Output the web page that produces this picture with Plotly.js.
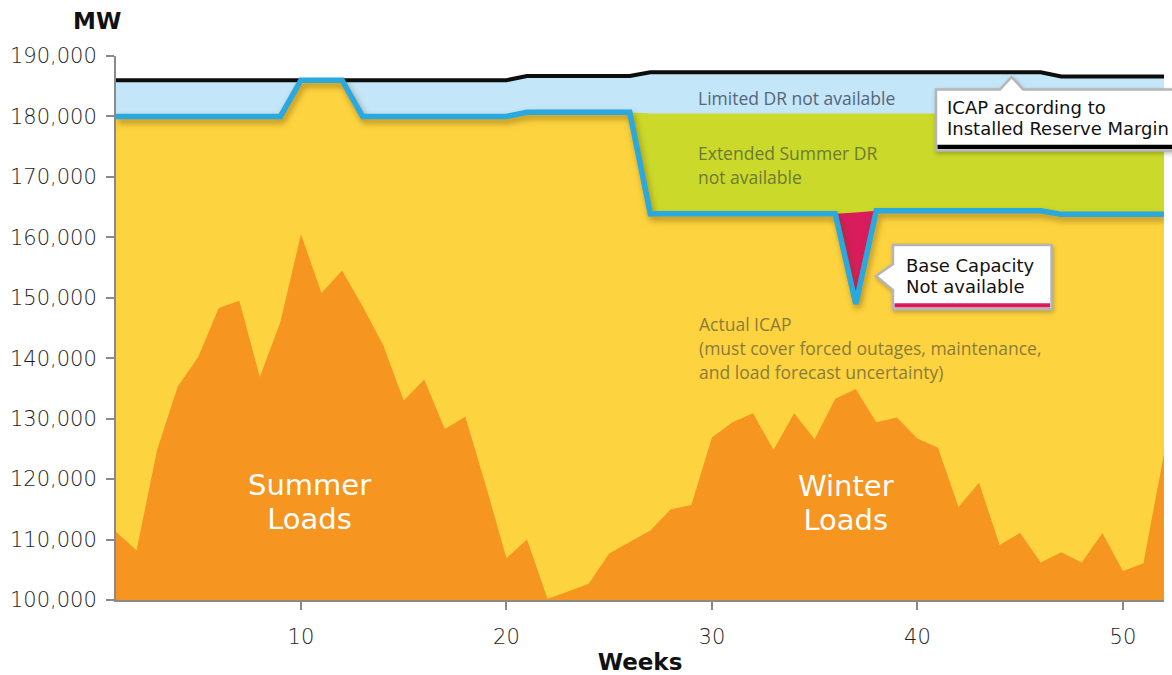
<!DOCTYPE html>
<html>
<head>
<meta charset="utf-8">
<script src="https://cdn.plot.ly/plotly-3.0.1.min.js"></script>
<style>
  html, body { margin: 0; padding: 0; background: #ffffff; }
  #chart { width: 1172px; height: 675px; }
</style>
</head>
<body>
<div id="chart"></div>
<script>
// ---------------- DATA ----------------
const weeks = [1,2,3,4,5,6,7,8,9,10,11,12,13,14,15,16,17,18,19,20,21,22,23,24,25,26,
               27,28,29,30,31,32,33,34,35,36,37,38,39,40,41,42,43,44,45,46,47,48,49,50,51,52];

// ICAP according to Installed Reserve Margin (black line), MW
const icapIRM = [186000,186000,186000,186000,186000,186000,186000,186000,186000,186000,
                 186000,186000,186000,186000,186000,186000,186000,186000,186000,186000,
                 186700,186700,186700,186700,186700,186700,
                 187300,187300,187300,187300,187300,187300,187300,187300,187300,187300,
                 187300,187300,187300,187300,187300,187300,187300,187300,187300,187300,
                 186600,186600,186600,186600,186600,186600];

// Top of Extended Summer DR band (green), MW
const extendedDRTop = [180000,180000,180000,180000,180000,180000,180000,180000,180000,186000,
                       186000,186000,180000,180000,180000,180000,180000,180000,180000,180000,
                       180700,180700,180700,180700,180700,180700,
                       180500,180500,180500,180500,180500,180500,180500,180500,180500,180500,
                       180500,180500,180500,180500,180500,180500,180500,180500,180500,180500,
                       180500,180500,180500,180500,180500,180500];

// Top of Base Capacity (pink dip band), MW
const baseCapTop = [180000,180000,180000,180000,180000,180000,180000,180000,180000,186000,
                    186000,186000,180000,180000,180000,180000,180000,180000,180000,180000,
                    180700,180700,180700,180700,180700,180700,
                    163900,163900,163900,163900,163900,163900,163900,163900,163900,163900,
                    164100,164400,164400,164400,164400,164400,164400,164400,164400,164400,
                    163800,163800,163800,163800,163800,163800];

// Actual ICAP (blue line), MW
const actualICAP = [180000,180000,180000,180000,180000,180000,180000,180000,180000,186000,
                    186000,186000,180000,180000,180000,180000,180000,180000,180000,180000,
                    180700,180700,180700,180700,180700,180700,
                    163900,163900,163900,163900,163900,163900,163900,163900,163900,163900,
                    149000,164400,164400,164400,164400,164400,164400,164400,164400,164400,
                    163800,163800,163800,163800,163800,163800];

// Weekly loads (orange area), MW
const loads = [111300,108200,124800,135300,140200,148300,149500,136900,146000,160500,
               150800,154500,148600,142200,133000,136500,128300,130300,118900,106900,
               110000,100200,101400,102700,107700,109600,111500,115000,115700,126900,
               129400,130900,124800,130900,126600,133300,134900,129400,130200,126700,
               125200,115400,119400,109100,111100,106200,107900,106200,111100,104800,
               106100,124200];

const yTicks = [100000,110000,120000,130000,140000,150000,160000,170000,180000,190000];
const xTicks = [10,20,30,40,50];

// ---------------- STYLE ----------------
const C = {
  lightBlue: '#c3e6f8',
  green: '#cbd92b',
  pink: '#d91c5c',
  yellow: '#fdd43f',
  orange: '#f6951f',
  blue: '#29a9e0',
  black: '#0d0d0d',
  axis: '#8a8a8a'
};
const GOTHAM = 'DejaVu Sans, Lato, sans-serif';
const MYRIAD = 'Open Sans, Noto Sans, sans-serif';

const M = {l: 116, r: 8, t: 56, b: 75};
const PW = 1172 - M.l - M.r, PH = 675 - M.t - M.b;
const px = x => (x - M.l) / PW;          // pixel -> paper x
const py = y => (675 - M.b - y) / PH;    // pixel -> paper y

const traces = [
  {x: weeks, y: icapIRM, type: 'scatter', mode: 'lines', fill: 'tozeroy',
   fillcolor: C.lightBlue, line: {color: C.black, width: 4, shape: 'linear'},
   name: 'ICAP according to Installed Reserve Margin'},
  {x: weeks, y: extendedDRTop, type: 'scatter', mode: 'none', fill: 'tozeroy',
   fillcolor: C.green, name: 'Extended Summer DR not available'},
  {x: weeks, y: baseCapTop, type: 'scatter', mode: 'none', fill: 'tozeroy',
   fillcolor: C.pink, name: 'Base Capacity not available'},
  {x: weeks, y: actualICAP, type: 'scatter', mode: 'lines', fill: 'tozeroy',
   fillcolor: C.yellow, line: {color: C.blue, width: 5.5, shape: 'linear'},
   name: 'Actual ICAP'},
  {x: weeks, y: loads, type: 'scatter', mode: 'none', fill: 'tozeroy',
   fillcolor: C.orange, name: 'Loads'}
];

// multi-line blocks: middle pixel of the block + line spacing (px)
const lineSpacingEm = [];
function ann(lines, x, yMid, font, gap, extra) {
  lineSpacingEm.push(lines.length > 1 ? gap / font.size : 0);
  return Object.assign({text: lines.join('<br>'), x: px(x), y: py(yMid), xref: 'paper', yref: 'paper',
    showarrow: false, xanchor: 'left', yanchor: 'middle', align: 'left', font: font}, extra || {});
}
const fMyrBlue = {family: MYRIAD, size: 17.5, color: '#56657a'};
const fMyrGreen = {family: MYRIAD, size: 17.5, color: '#6c7a34'};
const fMyrYel = {family: MYRIAD, size: 17.5, color: '#8b7b3a'};
const fLoads = {family: GOTHAM, size: 29, color: '#ffffff'};
const fCall = {family: GOTHAM, size: 18, color: '#111111'};

const annotations = [
  ann(['<b>MW</b>'], 97, 21, {family: GOTHAM, size: 23, color: '#111111'}, 0, {xanchor: 'center'}),
  ann(['Limited DR not available'], 696, 97.5, fMyrBlue, 0),
  ann(['Extended Summer DR', 'not available'], 696, 165.9, fMyrGreen, 24.2),
  ann(['Actual ICAP', '(must cover forced outages, maintenance,', 'and load forecast uncertainty)'],
      697, 347.5, fMyrYel, 24.2),
  ann(['Summer', 'Loads'], 309.5, 502.4, fLoads, 34.2, {xanchor: 'center', align: 'center'}),
  ann(['Winter', 'Loads'], 846, 503.3, fLoads, 34.2, {xanchor: 'center', align: 'center'}),
  ann(['ICAP according to', 'Installed Reserve Margin'], 945, 118, fCall, 21.2),
  ann(['Base Capacity', 'Not available'], 904, 276, fCall, 21.2)
];

function pathFrom(pts) {
  return 'M' + pts.map(p => px(p[0]).toFixed(5) + ',' + py(p[1]).toFixed(5)).join(' L') + ' Z';
}
const shapes = [
  // ICAP callout
  {type: 'path', xref: 'paper', yref: 'paper', layer: 'above',
   path: pathFrom([[936,89.5],[1000,89.5],[1011.7,77],[1023,89.5],[1185,89.5],[1185,150.5],[936,150.5]]),
   fillcolor: '#ffffff', line: {color: '#b5b5b5', width: 2.5}},
  {type: 'path', xref: 'paper', yref: 'paper', layer: 'above',
   path: pathFrom([[937.5,144.8],[1185,144.8],[1185,149],[937.5,149]]),
   fillcolor: '#000000', line: {width: 0}},
  // Base capacity callout
  {type: 'path', xref: 'paper', yref: 'paper', layer: 'above',
   path: pathFrom([[893,245],[1051.5,245],[1051.5,309.3],[893,309.3],[893,290],[876,276],[893,264]]),
   fillcolor: '#ffffff', line: {color: '#b5b5b5', width: 2.5}},
  {type: 'path', xref: 'paper', yref: 'paper', layer: 'above',
   path: pathFrom([[894.5,303.3],[1050,303.3],[1050,307.6],[894.5,307.6]]),
   fillcolor: C.pink, line: {width: 0}}
];

const tickFont = {family: GOTHAM, size: 21, color: '#1e1e1e', weight: 300};

const layout = {
  width: 1172, height: 675,
  margin: M,
  paper_bgcolor: '#ffffff', plot_bgcolor: '#ffffff',
  showlegend: false,
  xaxis: {
    range: [1, 52], tickvals: xTicks, ticktext: xTicks.map(String),
    ticks: 'outside', ticklen: 8, tickwidth: 2, tickcolor: C.axis,
    showline: true, linecolor: C.axis, linewidth: 2, mirror: false,
    showgrid: false, zeroline: false, tickfont: tickFont, ticklabelstandoff: 9,
    title: {text: '<b>Weeks</b>', font: {family: GOTHAM, size: 23, color: '#111111'}, standoff: 13},
    fixedrange: true
  },
  yaxis: {
    range: [100000, 190000], tickvals: yTicks, tickformat: ',d',
    ticks: 'outside', ticklen: 8, tickwidth: 2, tickcolor: C.axis,
    showline: true, linecolor: C.axis, linewidth: 2,
    showgrid: false, zeroline: false, tickfont: tickFont, ticklabelstandoff: 5,
    fixedrange: true
  },
  annotations: annotations,
  shapes: shapes
};

// Plotly spaces lines at 1.3em and centres the block; re-space around the same middle
function respace() {
  document.querySelectorAll('g.annotation').forEach(function (g, k) {
    const idx = g.getAttribute('data-index') !== null ? +g.getAttribute('data-index') : k;
    const s = lineSpacingEm[idx];
    if (!s) return;
    const lines = g.querySelectorAll('text.annotation-text tspan.line');
    const n = lines.length;
    const shift = (n - 1) * (1.3 - s) / 2;   // keep block centred
    lines.forEach(function (t, j) {
      t.setAttribute('dy', (j * s + shift).toFixed(4) + 'em');
    });
  });
}

Plotly.newPlot('chart', traces, layout, {staticPlot: true, displayModeBar: false}).then(function () {
  respace();
  const tr = document.querySelectorAll('.scatterlayer .trace');
  if (tr[3]) {
    const ln = tr[3].querySelector('.js-line');
    if (ln) ln.style.filter = 'drop-shadow(2px 4px 3px rgba(110,70,0,0.5))';
  }
  document.querySelectorAll('.shapelayer path').forEach(function (p, i) {
    if (i === 0 || i === 2) p.style.filter = 'drop-shadow(1px 2px 2px rgba(0,0,0,0.25))';
  });
});
</script>
</body>
</html>
